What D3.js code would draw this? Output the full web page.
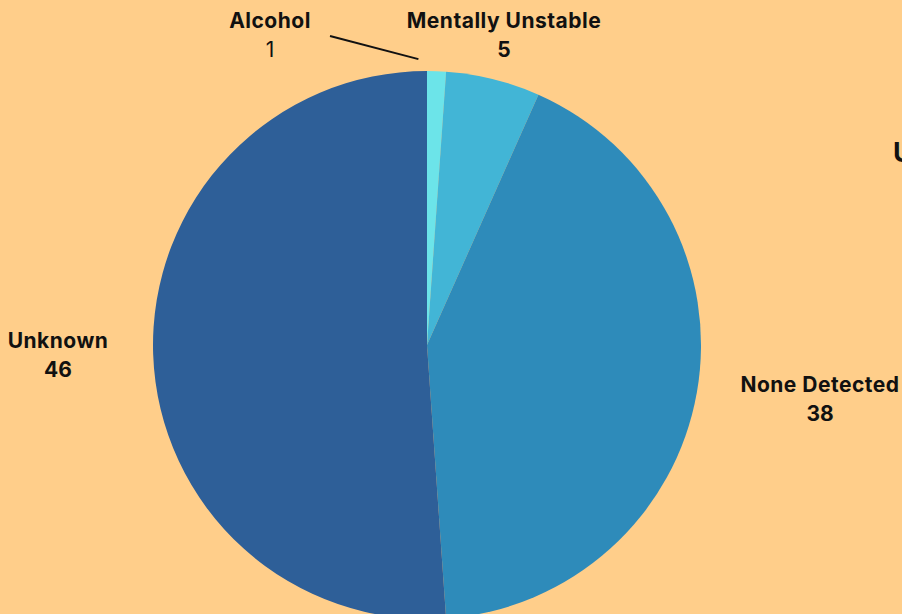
<!DOCTYPE html>
<html>
<head>
<meta charset="utf-8">
<script src="https://cdn.jsdelivr.net/npm/d3@7"></script>
<style>
  html, body { margin: 0; padding: 0; background: #FFCE8A; overflow: hidden; }
  svg { display: block; }
  text { font-family: Inter, "Noto Sans", sans-serif; fill: #111; }
</style>
</head>
<body>
<svg id="chart" width="902" height="614"></svg>
<script>
// Slice categories and counts, drawn clockwise from 12 o'clock
const categories = ["Alcohol", "Mentally Unstable", "None Detected", "Unknown"];
const counts = [1, 5, 38, 46];
const sliceColors = ["#6CE4E9", "#42B5D6", "#2E8BBA", "#2E5F98"];

// Label anchor points (centre of each two-line label)
const labelX = [270, 504, 820, 58];
const labelY = [21, 21, 385, 341];
const valueBold = [false, true, true, true];

const W = 902, H = 614;
const cx = 427, cy = 345, radius = 274;

const svg = d3.select("#chart");

const pie = d3.pie().sort(null).value(d => d.value);
const arc = d3.arc().innerRadius(0).outerRadius(radius);
const data = categories.map((c, i) => ({ name: c, value: counts[i], color: sliceColors[i] }));
const arcs = pie(data);

const g = svg.append("g").attr("transform", `translate(${cx},${cy})`);
g.selectAll("path")
  .data(arcs)
  .join("path")
  .attr("d", arc)
  .attr("fill", d => d.data.color);

// Leader line for the small Alcohol slice, ending just above its left edge
const tipAngle = arcs[0].startAngle - 0.03;
const tip = [cx + Math.sin(tipAngle) * (radius + 12), cy - Math.cos(tipAngle) * (radius + 12)];
svg.append("line")
  .attr("x1", 330).attr("y1", 36)
  .attr("x2", tip[0]).attr("y2", tip[1])
  .attr("stroke", "#111").attr("stroke-width", 2);

// Category labels with their counts beneath
const labels = svg.selectAll("g.label")
  .data(arcs)
  .join("g")
  .attr("class", "label")
  .attr("transform", (d, i) => `translate(${labelX[i]},${labelY[i]})`);

labels.append("text")
  .attr("text-anchor", "middle")
  .attr("dy", "0.35em")
  .attr("font-size", 21)
  .attr("letter-spacing", 0.5)
  .attr("font-weight", 700)
  .text(d => d.data.name);

labels.append("text")
  .attr("text-anchor", "middle")
  .attr("y", 29)
  .attr("dy", "0.35em")
  .attr("font-size", 21)
  .attr("font-weight", (d, i) => valueBold[i] ? 700 : 400)
  .text(d => d.value);

// Heading that runs off the right edge
svg.append("text")
  .attr("x", 893).attr("y", 162)
  .attr("font-size", 27)
  .attr("font-weight", 700)
  .text("U");
</script>
</body>
</html>
